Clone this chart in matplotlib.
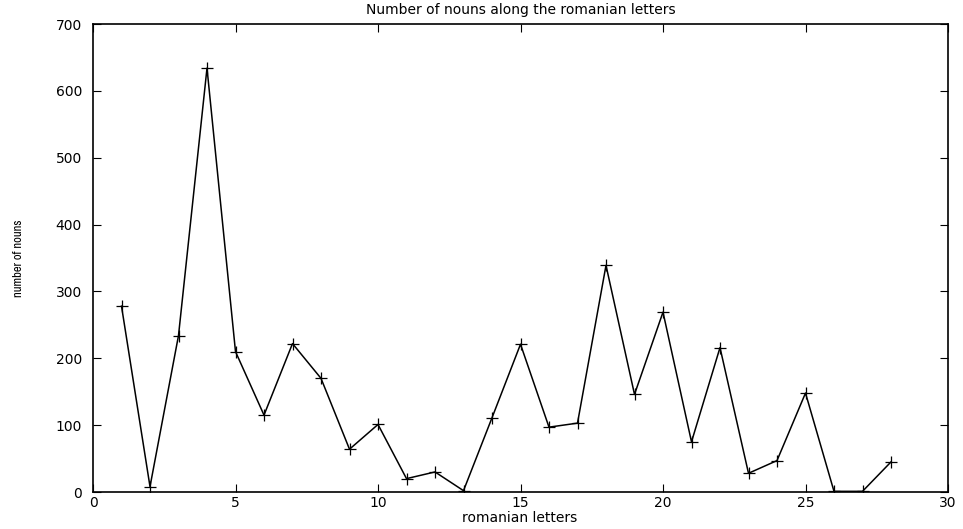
import matplotlib
matplotlib.use('Agg')
import matplotlib.pyplot as plt
from matplotlib import font_manager

plt.rcParams['font.family'] = ['DejaVu Sans']

letters = list(range(1, 29))
nouns = [278, 8, 234, 634, 210, 115, 222, 170, 64, 101, 20, 30, 2, 111,
         221, 97, 103, 339, 146, 269, 75, 216, 28, 47, 148, 1, 1, 45]

xticks = [0, 5, 10, 15, 20, 25, 30]
yticks = [0, 100, 200, 300, 400, 500, 600, 700]

W, H = 963, 529
fig = plt.figure(figsize=(W / 100, H / 100), dpi=100)
ax = fig.add_axes([93/W, 37/H, 855/W, 468/H])

ax.plot(letters, nouns, color='black', lw=1.1, marker='+', ms=8, mew=0.9)

ax.set_xlim(0, 30)
ax.set_ylim(0, 700)
ax.set_xticks(xticks)
ax.set_yticks(yticks)
ax.tick_params(direction='in', length=6, width=0.8, top=True, right=True,
               labelsize=10)
ax.tick_params(axis='y', pad=8)
ax.tick_params(axis='x', pad=3)
for s in ax.spines.values():
    s.set_linewidth(1.2)

fig.text(521/W, 1 - 10/H, 'Number of nouns along the romanian letters',
         fontsize=10, ha='center', va='center')
fig.text(520/W, 1 - 518/H, 'romanian letters', fontsize=10,
         ha='center', va='center')

narrow = [f.name for f in font_manager.fontManager.ttflist if 'Narrow' in f.name]
yfam = [narrow[0], 'DejaVu Sans'] if narrow else ['Liberation Sans', 'DejaVu Sans']
fig.text(19/W, 1 - 258/H, 'number of nouns', rotation=90, fontsize=9,
         family=yfam, ha='center', va='center')

fig.savefig('out.png', dpi=100)
